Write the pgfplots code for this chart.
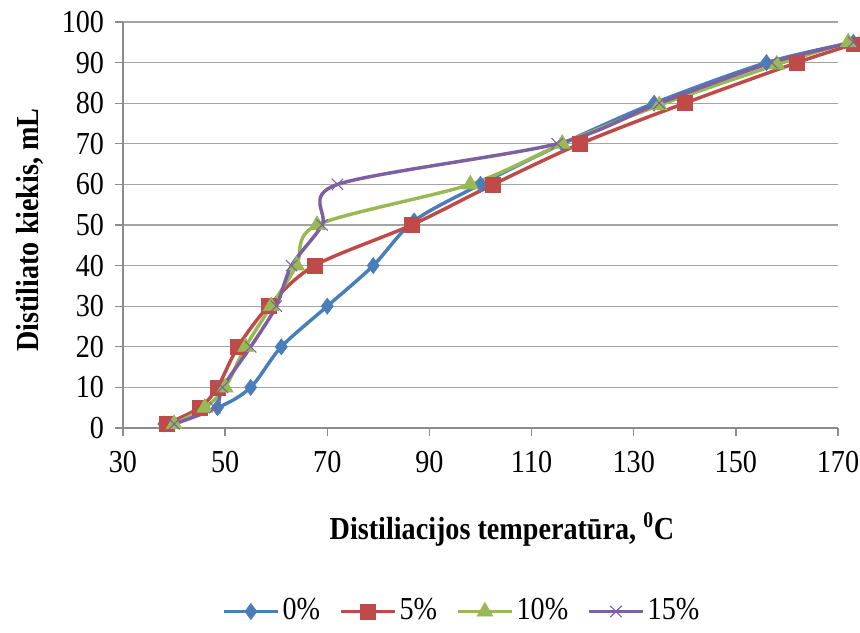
\documentclass[border=0pt]{standalone}
\usepackage{fontspec}
\setmainfont{Liberation Serif}[FakeStretch=0.88]
\usepackage{pgfplots}
\pgfplotsset{compat=1.18}
\definecolor{cA}{HTML}{4A7EBB}
\definecolor{cB}{HTML}{BE4B48}
\definecolor{cC}{HTML}{98B954}
\definecolor{cD}{HTML}{7D60A0}
\definecolor{axgray}{HTML}{8C8C8C}
\begin{document}
\fontsize{24}{28}\selectfont
\begin{tikzpicture}
\begin{axis}[
  width=536.25pt, height=304.5pt, scale only axis,
  xmin=30, xmax=170, ymin=0, ymax=100,
  xtick={30,50,...,170}, ytick={0,10,...,100},
  axis lines=left,
  axis line style={draw=axgray, line width=1pt, -},
  tick align=outside, major tick length=6pt,
  tick style={draw=axgray, line width=1pt},
  ymajorgrids, grid style={draw=axgray!80, line width=1pt},
  clip=false,
  /pgf/number format/assume math mode=true,
  tick label style={font=\fontsize{24}{28}\selectfont},
  xticklabel style={yshift=-3.5pt},
  label style={font=\fontsize{24}{28}\selectfont\bfseries},
  xlabel={Distiliacijos temperatūra, \textsuperscript{0}C},
  ylabel={Distiliato kiekis, mL},
  xlabel style={at={(axis description cs:0.53,-0.251)}, anchor=center},
  ylabel style={at={(axis description cs:-0.13,0.488)}, anchor=center},
  legend columns=4,
  legend style={draw=none, fill=none, at={(axis description cs:0.474,-0.452)}, anchor=center,
    font=\fontsize{24}{28}\selectfont,
    /tikz/every even column/.append style={column sep=12pt}},
  legend image code/.code={\draw[mark repeat=2,mark phase=2] plot coordinates {(0pt,0pt)(20.5pt,0pt)(41pt,0pt)};},
  every axis plot/.append style={line width=2.6pt, smooth, tension=0.5},
]
\addplot[cA, mark=diamond*, mark size=6pt, mark options={solid, fill=cA, line width=0.5pt}] coordinates {
(38,1) (48.5,5) (55,10) (61,20) (70,30) (79,40) (87,51) (100,60) (116,70) (134,80) (156,90) (173,95)};
\addlegendentry{0\%}
\addplot[cB, mark=square*, mark size=5.6pt, mark options={solid, fill=cB, line width=0.5pt}] coordinates {
(38.5,1) (45,5) (48.5,10) (52.5,20) (58.5,30) (67.5,40) (86.5,50) (102.5,60) (119.5,70) (140,80) (162,90) (173,94.5)};
\addlegendentry{5\%}
\addplot[cC, mark=triangle*, mark size=6.8pt, mark options={solid, fill=cC, line width=0.5pt}] coordinates {
(40,1) (46,5) (50,10) (54,20) (59,30) (64,40) (68,50) (98,60) (116,70) (135,79.5) (158,89.5) (172,95)};
\addlegendentry{10\%}
\addplot[cD, mark=x, mark size=6pt, mark options={solid, line width=0.8pt}] coordinates {
(40,1) (48,5) (49.5,10) (55,20) (60,30) (63,40) (69,50) (72,60) (115,70) (135,80) (157,90) (173,95)};
\addlegendentry{15\%}
\end{axis}
\pgfresetboundingbox
\path ([shift={(-92.25pt,-153pt)}]current axis.south west) rectangle ([shift={(552.75pt,321pt)}]current axis.south west);
\end{tikzpicture}
\end{document}
